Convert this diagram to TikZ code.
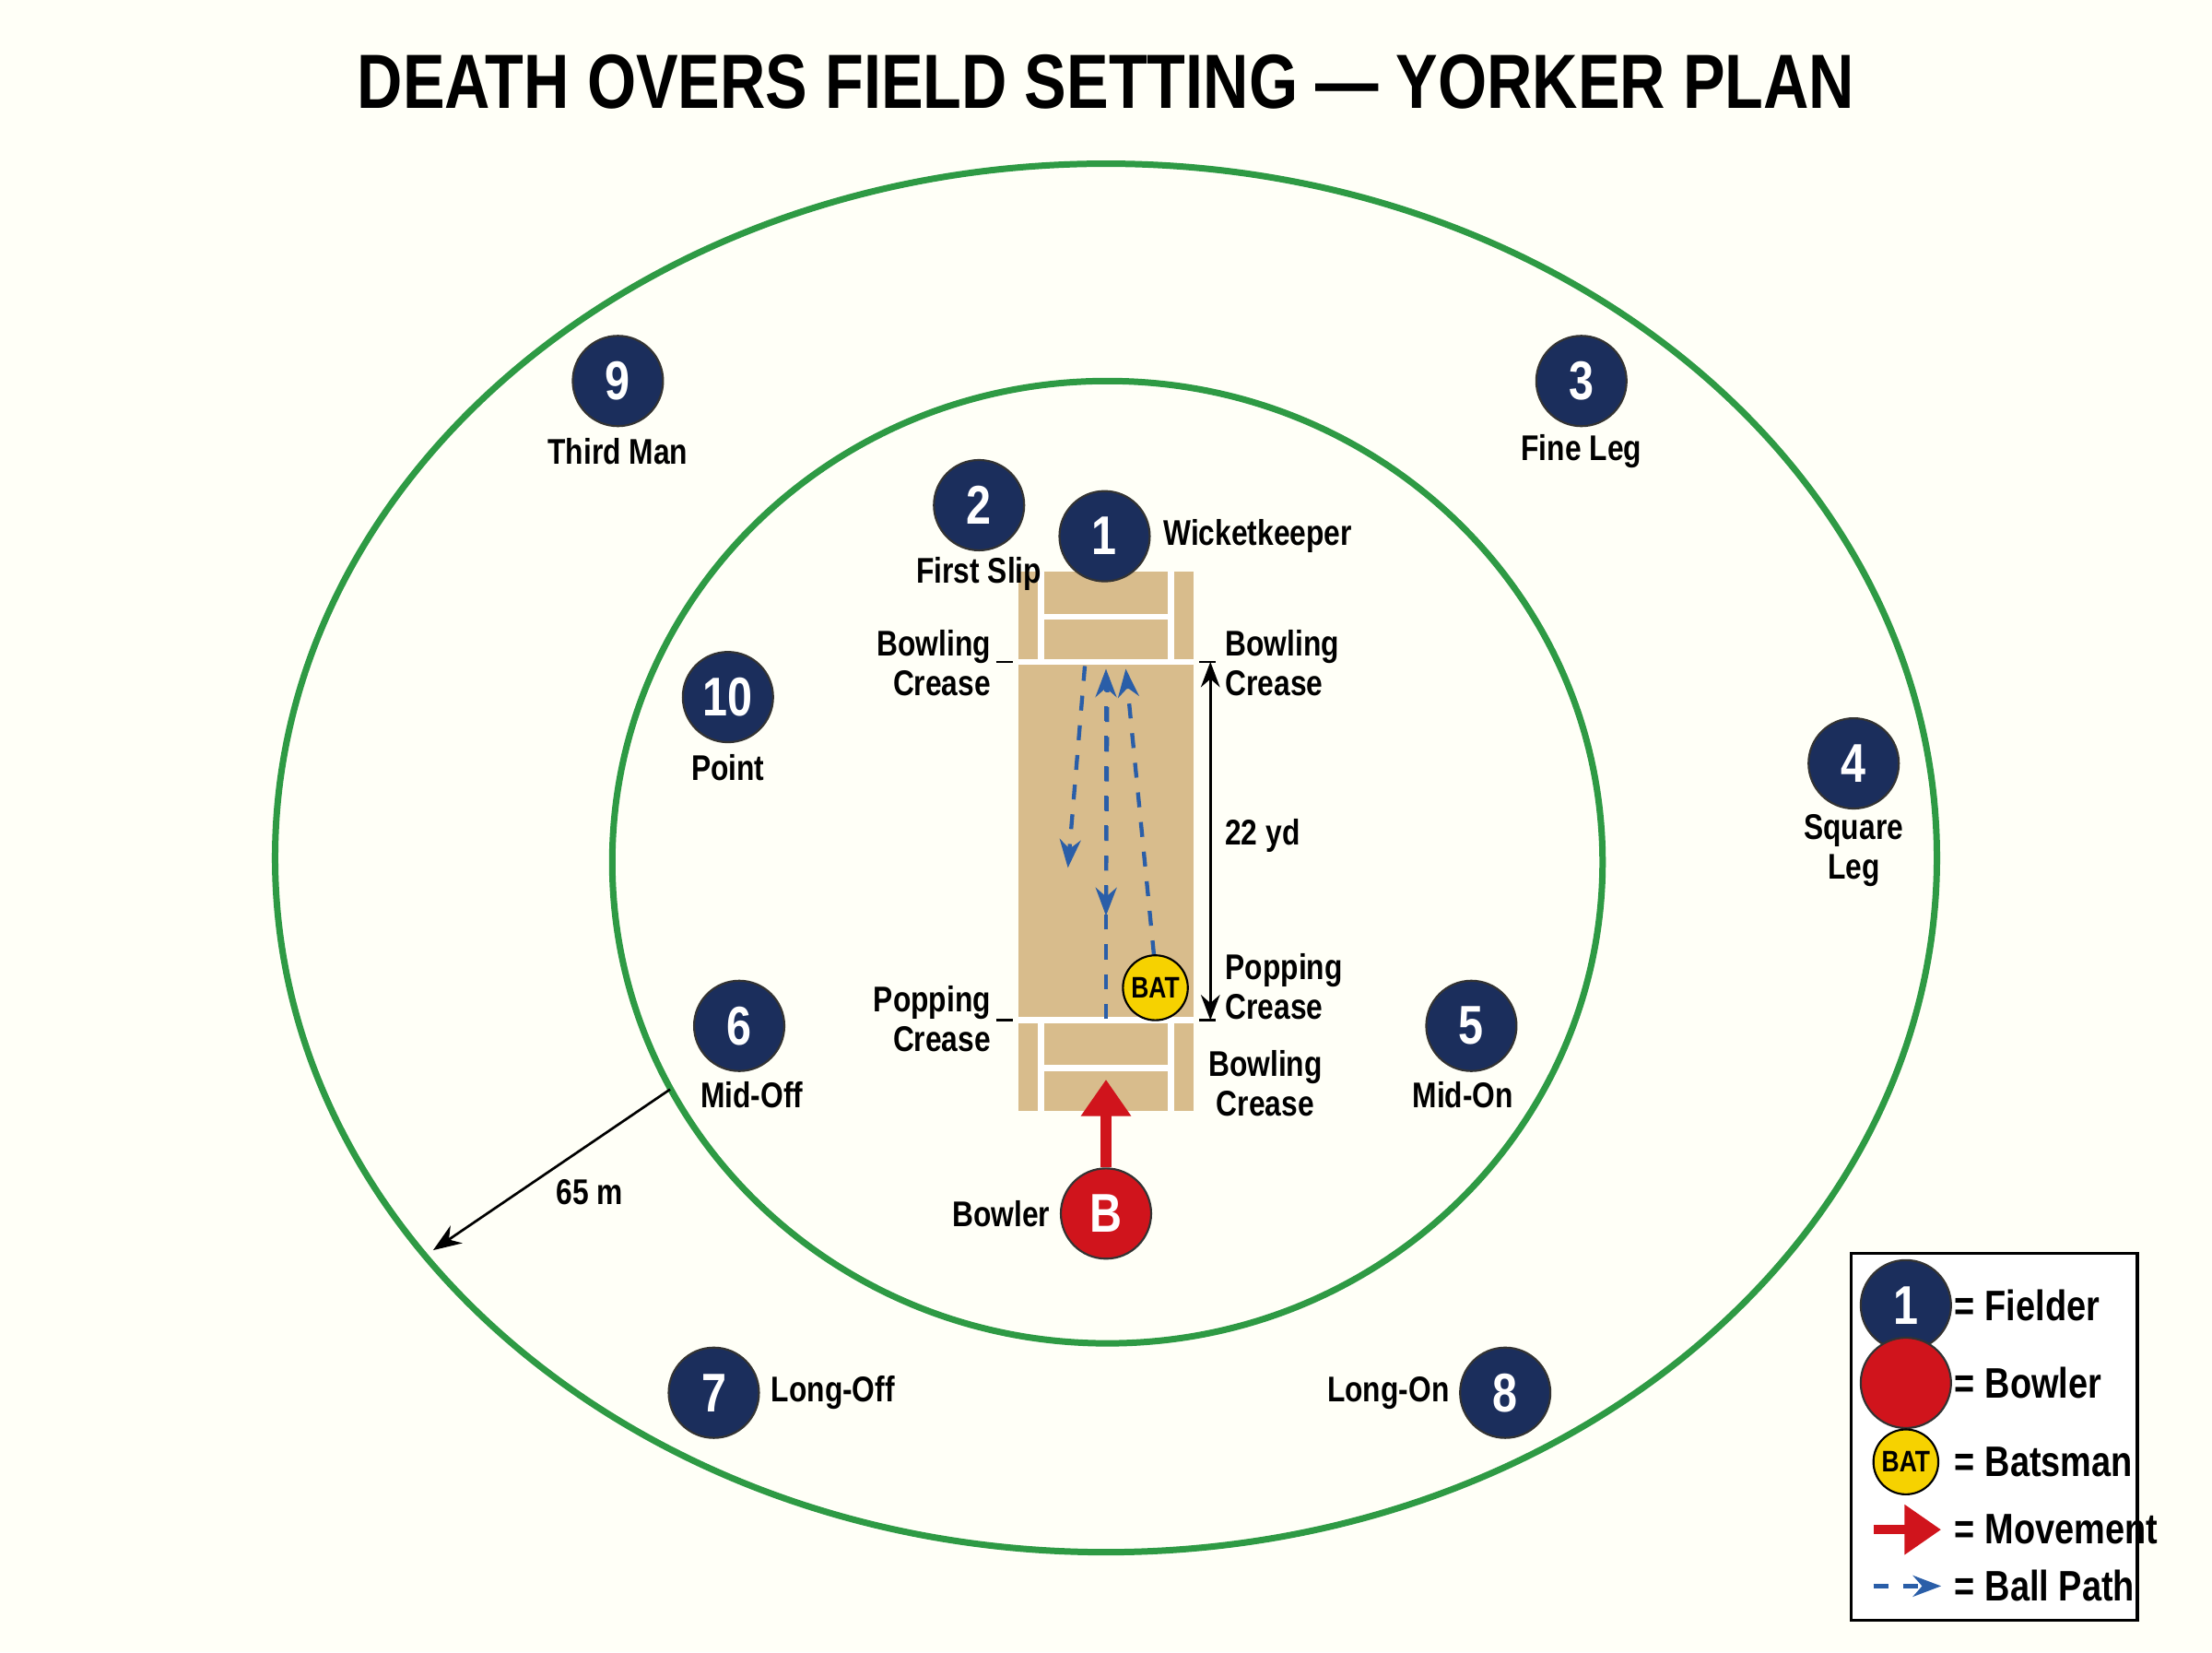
\documentclass[tikz,border=0pt]{standalone}
\usepackage{fontspec}
\setmainfont{Liberation Sans}[FakeStretch=0.82]
\usetikzlibrary{arrows.meta}
\definecolor{navy}{HTML}{1B2E5C}
\definecolor{fieldgreen}{HTML}{2E9A44}
\definecolor{pitchtan}{HTML}{D8BC8C}
\definecolor{bowlred}{HTML}{D0141C}
\definecolor{batyellow}{HTML}{F6D200}
\definecolor{ballblue}{HTML}{2A5EA8}
\tikzset{
  fielder/.style={circle,fill=navy,draw=black!80,line width=0.4pt,minimum size=6.4mm,inner sep=0pt,text=white,font=\bfseries\fontsize{11}{11}\selectfont},
  bowler/.style={fielder,fill=bowlred},
  batter/.style={circle,fill=batyellow,draw=black,line width=0.4pt,minimum size=4.6mm,inner sep=0pt,font=\bfseries\fontsize{6}{6}\selectfont},
  lbl/.style={font=\bfseries\fontsize{7.2}{8}\selectfont,align=center,inner sep=0pt},
  ring/.style={draw=fieldgreen,line width=1.3pt},
  ball/.style={draw=ballblue,dashed,thick,-{Stealth[length=2mm]}},
  move/.style={draw=bowlred,line width=2.2pt,-{Triangle[length=2.6mm,width=3.4mm]}},
  tick/.style={draw=black,line width=0.5pt}
}
\begin{document}
\begin{tikzpicture}[x=0.1mm,y=-0.1mm]
\fill[white!97!yellow] (0,0) rectangle (1568,1171);
\useasboundingbox (0,0) rectangle (1568,1171);
% title
\node[font=\bfseries\fontsize{15.5}{16}\selectfont] (title) at (784,58) {DEATH OVERS FIELD SETTING — YORKER PLAN};
% boundary and inner circle
\draw[ring] (784,608) ellipse [x radius=589,y radius=492];
\draw[ring] (785,611) ellipse [x radius=351,y radius=341];
% pitch
\fill[pitchtan] (722,405) rectangle (846,787);
\draw[white,line width=1.2pt] (722,469) -- (846,469) (722,723) -- (846,723)
  (738,437) -- (830,437) (738,757) -- (830,757)
  (738,405) -- (738,469) (830,405) -- (830,469)
  (738,723) -- (738,787) (830,723) -- (830,787);
% crease labels
\node[lbl,align=right,anchor=east] (bcl) at (703,470) {Bowling\\Crease};
\node[lbl,align=left,anchor=west] (bcr) at (868,470) {Bowling\\Crease};
\node[lbl,align=right,anchor=east] (pcl) at (703,722) {Popping\\Crease};
\node[lbl,align=left,anchor=west] (pcr) at (868,699) {Popping\\Crease};
\node[lbl] (bcb) at (897,768) {Bowling\\Crease};
\draw[tick] (706,469) -- (718,469) (850,469) -- (862,469) (706,723) -- (718,723) (850,723) -- (862,723);
% 22 yd
\coordinate (dtop) at (858,469);
\coordinate (dbot) at (858,723);
\draw[{Stealth[length=1.8mm]}-{Stealth[length=1.8mm]},line width=0.5pt] (dtop) -- (dbot);
\node[lbl] (yd) at (895,592) {22 yd};
% ball paths
\coordinate (p1) at (769,472); \coordinate (p2) at (757,615);
\coordinate (p3) at (784,722); \coordinate (p4) at (784,474);
\coordinate (p5) at (785,480); \coordinate (p6) at (784,649);
\coordinate (p7) at (818,677); \coordinate (p8) at (798,474);
\draw[ball] (p1) -- (p2);
\draw[ball] (p3) -- (p4);
\draw[ball] (p5) -- (p6);
\draw[ball] (p7) -- (p8);
% players
\node[batter] (bat) at (819,700) {BAT};
\node[fielder] (f1) at (783,380) {1};
\node[fielder] (f2) at (694,358) {2};
\node[fielder] (f3) at (1121,270) {3};
\node[fielder] (f4) at (1314,541) {4};
\node[fielder] (f5) at (1043,727) {5};
\node[fielder] (f6) at (524,727) {6};
\node[fielder] (f7) at (506,987) {7};
\node[fielder] (f8) at (1067,987) {8};
\node[fielder] (f9) at (438,270) {9};
\node[fielder] (f10) at (516,494) {10};
\node[bowler] (bw) at (784,860) {B};
\draw[move] (bw) -- (784,765);
% fielder labels
\node[lbl,anchor=west] at (824,380) {Wicketkeeper};
\node[lbl] at (694,407) {First Slip};
\node[lbl] at (1121,320) {Fine Leg};
\node[lbl] at (1314,603) {Square\\Leg};
\node[lbl] at (1037,776) {Mid-On};
\node[lbl] at (533,776) {Mid-Off};
\node[lbl,anchor=west] at (546,987) {Long-Off};
\node[lbl,anchor=east] at (1028,987) {Long-On};
\node[lbl] at (438,320) {Third Man};
\node[lbl] at (516,544) {Point};
\node[lbl,anchor=east] at (745,860) {Bowler};
% radius
\coordinate (r1) at (475,772);
\coordinate (r2) at (307,886);
\draw[-{Stealth[length=2mm]},line width=0.5pt] (r1) -- (r2);
\node[lbl] (rad) at (418,845) {65 m};
% legend
\draw[fill=white,line width=0.6pt] (1312,888) rectangle (1515,1148);
\node[fielder] (lf) at (1351,925) {1};
\node[bowler] (lb) at (1351,980) {};
\node[batter] (lt) at (1351,1036) {BAT};
\coordinate (lm1) at (1328,1084); \coordinate (lm2) at (1376,1084);
\coordinate (lp1) at (1328,1124); \coordinate (lp2) at (1376,1124);
\draw[move,line width=1.8pt] (lm1) -- (lm2);
\draw[ball] (lp1) -- (lp2);
\tikzset{leg/.style={lbl,anchor=west,font=\bfseries\fontsize{8.6}{9}\selectfont}}
\node[leg] at (1385,925) {= Fielder};
\node[leg] at (1385,980) {= Bowler};
\node[leg] at (1385,1036) {= Batsman};
\node[leg] at (1385,1084) {= Movement};
\node[leg] at (1385,1124) {= Ball Path};
\end{tikzpicture}
\end{document}
